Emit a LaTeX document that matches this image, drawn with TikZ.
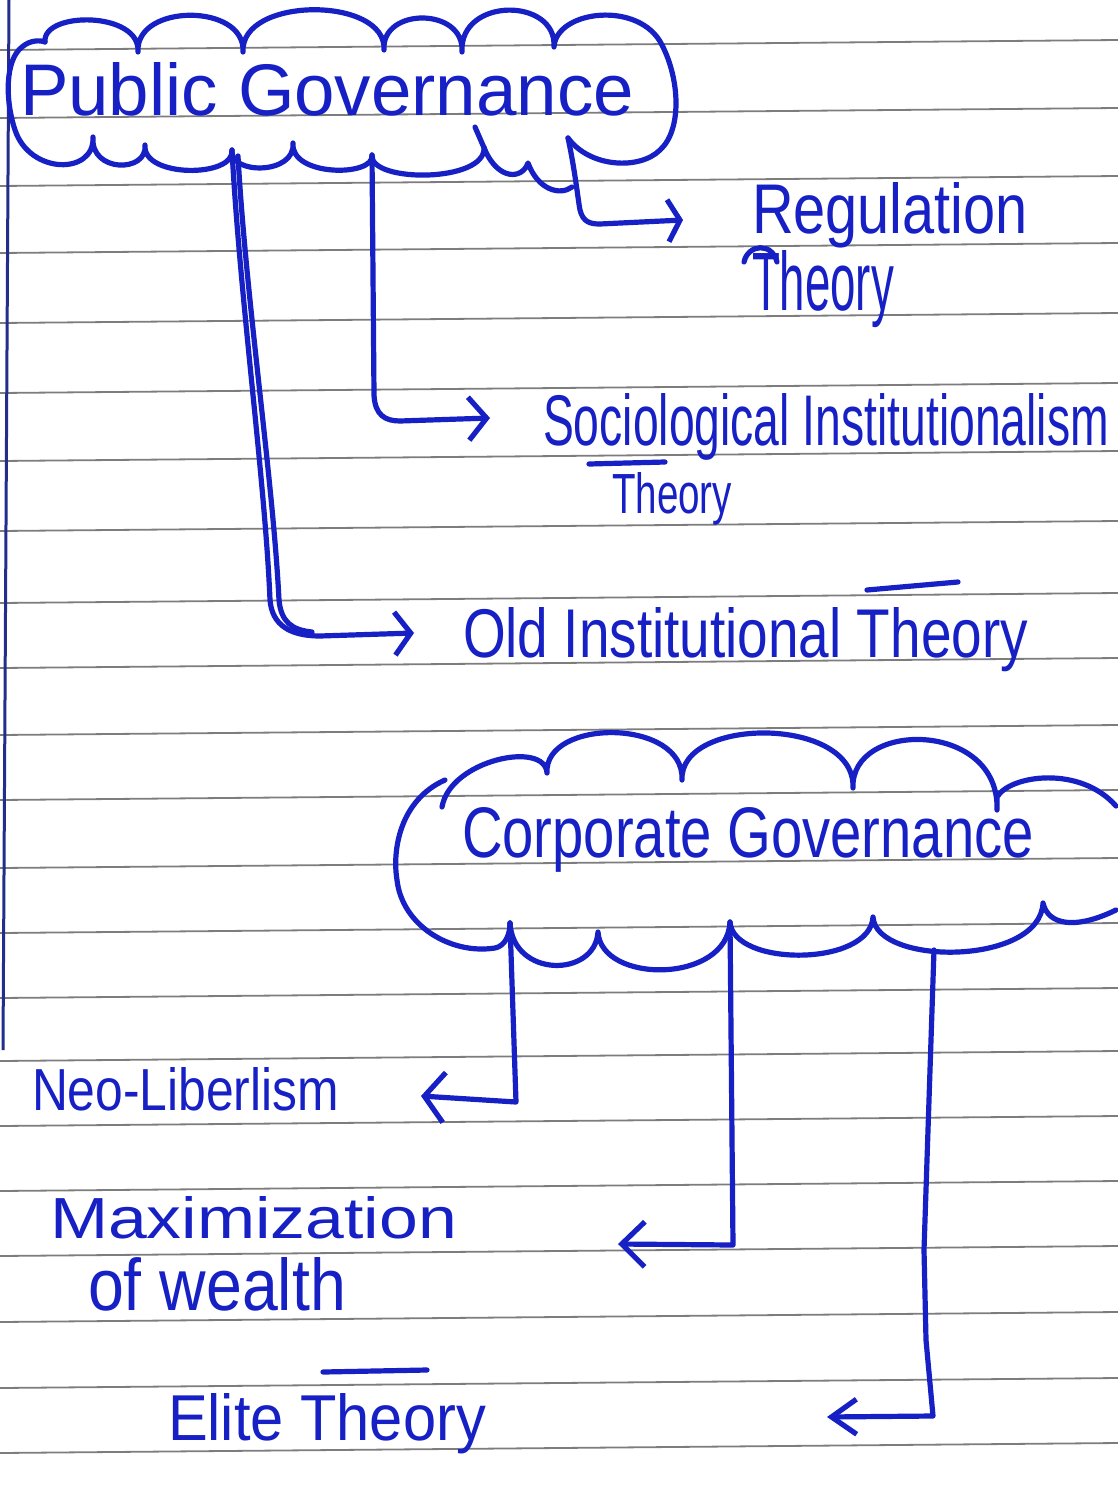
\documentclass[tikz,border=0pt]{standalone}
\usepackage{fontspec}
\setmainfont{Liberation Sans}
\usepackage{graphicx}
\usetikzlibrary{arrows.meta}
\definecolor{ink}{RGB}{22,32,196}
\definecolor{rulegray}{RGB}{125,125,125}
\definecolor{marginblue}{RGB}{35,45,140}
\newcommand{\hw}[3]{\resizebox{#1}{#2}{\fontsize{30}{36}\selectfont #3}}
\begin{document}
\begin{tikzpicture}[x=0.5pt,y=-0.5pt,
  pen/.style={draw=ink,line width=2.6pt,line cap=round,line join=round},
  ruleline/.style={draw=rulegray,line width=0.9pt},
  lbl/.style={inner sep=0pt,outer sep=0pt,anchor=base west,text=ink},
  chevron/.style 2 args={-{Straight Barb[length=#1,width=#2]}}]
% paper
\fill[white] (0,0) rectangle (1118,1504);
\useasboundingbox (0,0) rectangle (1118,1504);
% ruled lines
\foreach \yy in {42,110,178,245,315,385,453,523,595,660,727,792,860,925,990,1053,1118,1183,1248,1314,1380,1445}
  \draw[ruleline] (0,\yy+8) -- (1118,\yy-2);
% margin line
\draw[draw=marginblue,line width=1.5pt] (9,0) -- (3,1050);

% ---------- Public Governance cloud ----------
\draw[pen] (45,42) .. controls (42,11) and (141,11) .. (138,52)
  .. controls (135,3) and (246,3) .. (243,52)
  .. controls (240,-4) and (387,-4) .. (384,50)
  .. controls (381,7) and (465,7) .. (462,52)
  .. controls (459,-3) and (557,-3) .. (554,47)
  .. controls (556,10) and (640,0) .. (662,45)
  .. controls (680,80) and (682,130) .. (660,150)
  .. controls (640,170) and (590,168) .. (568,138);
\draw[pen] (572,187) .. controls (560,196) and (538,190) .. (528,163)
  .. controls (522,180) and (498,180) .. (485,150) -- (475,127);
\draw[pen] (484,147) .. controls (487,183) and (369,183) .. (372,155)
  .. controls (375,177) and (290,177) .. (293,143)
  .. controls (296,175) and (229,175) .. (232,150)
  .. controls (235,178) and (142,178) .. (145,145)
  .. controls (148,173) and (90,173) .. (93,137)
  .. controls (95,175) and (30,175) .. (15,130)
  .. controls (5,100) and (5,60) .. (22,47)
  .. controls (30,40) and (40,40) .. (45,42);
\node[lbl] (pg) at (20,116) {\hw{307pt}{26.5pt}{Public Governance}};

% attachment points
\coordinate (pgA) at (232,150);
\coordinate (pgB) at (372,155);
\coordinate (pgC) at (568,138);
\coordinate (tipA) at (414,633);
\coordinate (tipB) at (490,418);
\coordinate (tipC) at (683,220);

% ---------- Public branches ----------
\node[lbl] (reg1) at (752,233) {\hw{138pt}{25.5pt}{Regulation}};
\node[lbl] (reg2) at (752,310) {\hw{71pt}{30pt}{Theory}};
\draw[pen] (744,262) .. controls (748,244) and (772,242) .. (777,262);

\node[lbl] (soc1) at (543,445) {\hw{283pt}{26pt}{Sociological Institutionalism}};
\node[lbl] (soc2) at (612,513) {\hw{60pt}{20.5pt}{Theory}};
\draw[pen] (589,464) -- (665,462);

\node[lbl] (old) at (463,657) {\hw{282.5pt}{25pt}{Old Institutional Theory}};
\draw[pen] (867,590) -- (958,582);

\draw[pen,chevron={6pt}{21pt}] (pgC) .. controls (575,170) and (578,200) .. (580,210)
  .. controls (583,222) and (590,224) .. (600,224) -- (tipC);
\draw[pen,chevron={9pt}{21.5pt}] (pgB) -- (374,395) .. controls (375,415) and (385,421) .. (400,421) -- (tipB);
\draw[pen,chevron={8pt}{21.5pt}] (pgA) .. controls (240,300) and (265,480) .. (270,600)
  .. controls (272,625) and (290,636) .. (320,636) -- (tipA);
\draw[pen] (238,156) .. controls (246,300) and (273,480) .. (279,600)
  .. controls (281,622) and (292,630) .. (312,632);

% ---------- Corporate Governance cloud ----------
\draw[pen] (445,780) .. controls (400,800) and (392,850) .. (397,880)
  .. controls (402,925) and (450,955) .. (495,948)
  .. controls (505,946) and (510,935) .. (510,923);
\draw[pen] (442,807) .. controls (450,760) and (545,740) .. (547,773)
  .. controls (544,718) and (685,718) .. (682,780)
  .. controls (679,716) and (856,716) .. (853,788)
  .. controls (850,720) and (1000,720) .. (997,810)
  -- (997,797) .. controls (1010,775) and (1080,765) .. (1116,806);
\draw[pen] (510,923) .. controls (513,978) and (595,978) .. (598,932)
  .. controls (601,984) and (727,984) .. (730,922)
  .. controls (733,967) and (870,967) .. (873,917)
  .. controls (876,966) and (1040,966) .. (1043,903)
  .. controls (1048,925) and (1075,930) .. (1116,910);
\node[lbl] (cg) at (462,857) {\hw{286pt}{25pt}{Corporate Governance}};

\coordinate (cgA) at (510,923);
\coordinate (cgB) at (730,922);
\coordinate (cgC) at (934,950);
\coordinate (tip1) at (421,1096);
\coordinate (tip2) at (618,1244);
\coordinate (tip3) at (827,1417);

% ---------- Corporate branches ----------
\node[lbl] (neo) at (32,1110) {\hw{153.5pt}{21.5pt}{Neo-Liberlism}};
\node[lbl] (max1) at (50,1238) {\hw{203.5pt}{21pt}{Maximization}};
\node[lbl] (max2) at (88,1310) {\hw{129pt}{26.5pt}{of wealth}};
\node[lbl] (elite) at (168,1440) {\hw{159pt}{23.5pt}{Elite Theory}};
\draw[pen] (323,1372) -- (427,1370);

\draw[pen,chevron={10pt}{25pt}] (cgA) -- (516,1102) -- (tip1);
\draw[pen,chevron={11.5pt}{22.5pt}] (cgB) -- (733,1245) -- (tip2);
\draw[pen,chevron={12.5pt}{17.5pt}] (cgC) -- (924,1250) -- (926,1340) -- (933,1416) -- (tip3);
\end{tikzpicture}
\end{document}
